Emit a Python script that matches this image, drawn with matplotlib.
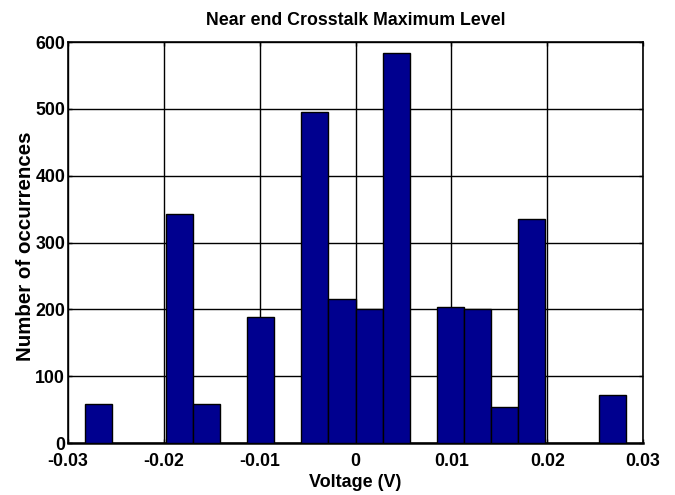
import numpy as np
import matplotlib
matplotlib.use("Agg")
import matplotlib.pyplot as plt

# Histogram bins (edges in volts) and counts per bin
bin_edges = np.linspace(-0.0282, 0.0282, 21)
counts = [58, 0, 0, 342, 59, 0, 188, 0, 495, 215,
          201, 584, 0, 204, 200, 54, 335, 0, 0, 72]
x_ticks = [-0.03, -0.02, -0.01, 0, 0.01, 0.02, 0.03]
x_tick_labels = ["-0.03", "-0.02", "-0.01", "0", "0.01", "0.02", "0.03"]
y_ticks = [0, 100, 200, 300, 400, 500, 600]

plt.rcParams["font.family"] = ["Liberation Sans", "DejaVu Sans"]
plt.rcParams["font.weight"] = "bold"

fig = plt.figure(figsize=(6.75, 4.95), dpi=100)
ax = fig.add_axes([0.1007, 0.105, 0.852, 0.810])

lefts = bin_edges[:-1]
widths = np.diff(bin_edges)
ax.bar(lefts, counts, width=widths, align="edge", color="#00008F",
       edgecolor="black", linewidth=1.0, zorder=3)

ax.set_xlim(-0.03, 0.03)
ax.set_ylim(0, 600)
ax.set_xticks(x_ticks)
ax.set_xticklabels(x_tick_labels)
ax.set_yticks(y_ticks)
ax.grid(True, color="black", linestyle="-", linewidth=1.0, zorder=0)
ax.set_axisbelow(True)

ax.tick_params(direction="in", length=3, width=1, labelsize=12.8,
               top=True, right=True)
ax.tick_params(axis="x", pad=7)
ax.tick_params(axis="y", pad=2)
for lab in ax.get_xticklabels() + ax.get_yticklabels():
    lab.set_fontweight("bold")
for sp in ax.spines.values():
    sp.set_linewidth(1.2)
ax.spines["bottom"].set_linewidth(1.8)

ax.set_title("Near end Crosstalk Maximum Level", fontsize=12.8,
             fontweight="bold", pad=12)
ax.set_xlabel("Voltage (V)", fontsize=13, fontweight="bold", labelpad=3)
ax.set_ylabel("Number of occurrences", fontsize=14.8, fontweight="bold",
              labelpad=0)
ax.yaxis.set_label_coords(-0.0575, 0.49)

fig.savefig("out.png", dpi=100)
